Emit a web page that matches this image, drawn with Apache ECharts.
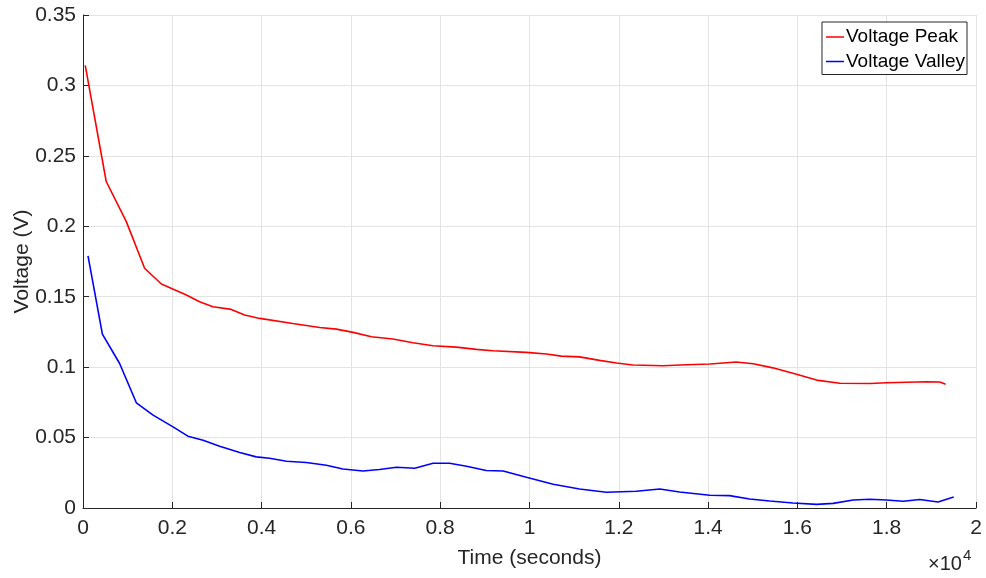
<!DOCTYPE html>
<html>
<head>
<meta charset="utf-8">
<script src="https://cdn.jsdelivr.net/npm/echarts@6/dist/echarts.min.js"></script>
<style>
  html, body { margin: 0; padding: 0; background: #fff; }
  #chart { width: 986px; height: 578px; }
</style>
</head>
<body>
<div id="chart"></div>
<script>
// Time in seconds, voltage in volts
const peakTime = [50, 520, 970, 1380, 1755, 2316, 2610, 2910, 3320, 3620, 3960, 4700, 5300, 5675, 6050, 6460, 6940, 7390, 7840, 8360, 8810, 9180, 9930, 10380, 10710, 11120, 11570, 11950, 12320, 12990, 13510, 14040, 14190, 14630, 15010, 15450, 15980, 16430, 16950, 17630, 17990, 18890, 19190, 19320];
const peakVolt = [0.3142, 0.2318, 0.2033, 0.1702, 0.1590, 0.1512, 0.1464, 0.1429, 0.1410, 0.1370, 0.1346, 0.1310, 0.1282, 0.1270, 0.1247, 0.1216, 0.1200, 0.1173, 0.1152, 0.1142, 0.1126, 0.1116, 0.1105, 0.1093, 0.1078, 0.1073, 0.1048, 0.1029, 0.1015, 0.1010, 0.1017, 0.1022, 0.1026, 0.1036, 0.1024, 0.0995, 0.0950, 0.0908, 0.0886, 0.0884, 0.0889, 0.0896, 0.0894, 0.0879];

const valleyTime = [112, 434, 820, 1195, 1570, 2016, 2350, 2690, 3060, 3510, 3880, 4180, 4560, 5000, 5450, 5820, 6270, 6640, 7020, 7430, 7840, 8210, 8590, 9030, 9410, 9930, 10530, 11120, 11720, 12390, 12920, 13360, 14040, 14480, 14930, 15380, 15900, 16430, 16800, 17250, 17620, 17990, 18370, 18740, 19150, 19500];
const valleyVolt = [0.1790, 0.1235, 0.1026, 0.0747, 0.0659, 0.0576, 0.0510, 0.0481, 0.0439, 0.0394, 0.0363, 0.0353, 0.0332, 0.0323, 0.0304, 0.0277, 0.0263, 0.0273, 0.0289, 0.0282, 0.0318, 0.0318, 0.0296, 0.0266, 0.0263, 0.0218, 0.0168, 0.0135, 0.0112, 0.0119, 0.0135, 0.0114, 0.0090, 0.0088, 0.0064, 0.0050, 0.0036, 0.0026, 0.0033, 0.0057, 0.0062, 0.0057, 0.0048, 0.0060, 0.0043, 0.0078];

const seriesNames = ['Voltage Peak', 'Voltage Valley'];
const seriesColors = ['#ff0000', '#0000ff'];

const textColor = '#262626';
const font = 'Liberation Sans, Arial, Helvetica, sans-serif';
const axisFontSize = 21;

const zip = (xs, ys) => xs.map((x, i) => [x, ys[i]]);

const chart = echarts.init(document.getElementById('chart'), null, { renderer: 'canvas' });

chart.setOption({
  backgroundColor: '#ffffff',
  animation: false,
  textStyle: { fontFamily: font, color: textColor },
  grid: { left: 83, right: 10, top: 15, bottom: 70, containLabel: false, outerBoundsMode: 'none' },
  legend: {
    orient: 'vertical',
    right: 19,
    top: 22,
    data: seriesNames,
    icon: 'rect',
    itemWidth: 18,
    itemHeight: 1.5,
    itemGap: 4.5,
    padding: [5, 2, 3, 4],
    backgroundColor: '#ffffff',
    borderColor: '#262626',
    borderWidth: 1,
    borderRadius: 0,
    textStyle: { fontFamily: font, fontSize: 19, lineHeight: 20, color: '#000', padding: [0, 0, 0, -3] }
  },
  xAxis: {
    type: 'value',
    min: 0,
    max: 20000,
    interval: 2000,
    name: 'Time (seconds)',
    nameLocation: 'middle',
    nameGap: 40,
    nameMoveOverlap: false,
    nameTextStyle: { fontFamily: font, fontSize: axisFontSize, color: textColor },
    axisLine: { show: true, onZero: false, lineStyle: { color: textColor, width: 1 } },
    axisTick: { show: true, inside: true, length: 6, lineStyle: { color: textColor } },
    axisLabel: {
      fontFamily: font, fontSize: axisFontSize, color: textColor, margin: 10,
      formatter: v => String(+(v / 10000).toFixed(1))
    },
    splitLine: { show: true, lineStyle: { color: '#e3e3e3', width: 1 } }
  },
  yAxis: {
    type: 'value',
    min: 0,
    max: 0.35,
    interval: 0.05,
    name: 'Voltage (V)',
    nameLocation: 'middle',
    nameGap: 50,
    nameMoveOverlap: false,
    nameTextStyle: { fontFamily: font, fontSize: axisFontSize, color: textColor },
    axisLine: { show: true, lineStyle: { color: textColor, width: 1 } },
    axisTick: { show: true, inside: true, length: 6, lineStyle: { color: textColor } },
    axisLabel: {
      fontFamily: font, fontSize: axisFontSize, color: textColor, margin: 7,
      formatter: v => String(+v.toFixed(2))
    },
    splitLine: { show: true, lineStyle: { color: '#e3e3e3', width: 1 } }
  },
  graphic: [
    // axis exponent: ×10^4
    {
      type: 'text',
      x: 928,
      y: 564,
      style: { text: '×10', fontFamily: font, fontSize: 20, fill: textColor, verticalAlign: 'middle' }
    },
    {
      type: 'text',
      x: 963,
      y: 555.5,
      style: { text: '4', fontFamily: font, fontSize: 15, fill: textColor, verticalAlign: 'middle' }
    }
  ],
  series: [
    {
      name: seriesNames[0],
      type: 'line',
      data: zip(peakTime, peakVolt),
      showSymbol: false,
      symbol: 'none',
      lineStyle: { color: seriesColors[0], width: 1.6 },
      itemStyle: { color: seriesColors[0] }
    },
    {
      name: seriesNames[1],
      type: 'line',
      data: zip(valleyTime, valleyVolt),
      showSymbol: false,
      symbol: 'none',
      lineStyle: { color: seriesColors[1], width: 1.6 },
      itemStyle: { color: seriesColors[1] }
    }
  ]
});
</script>
</body>
</html>
